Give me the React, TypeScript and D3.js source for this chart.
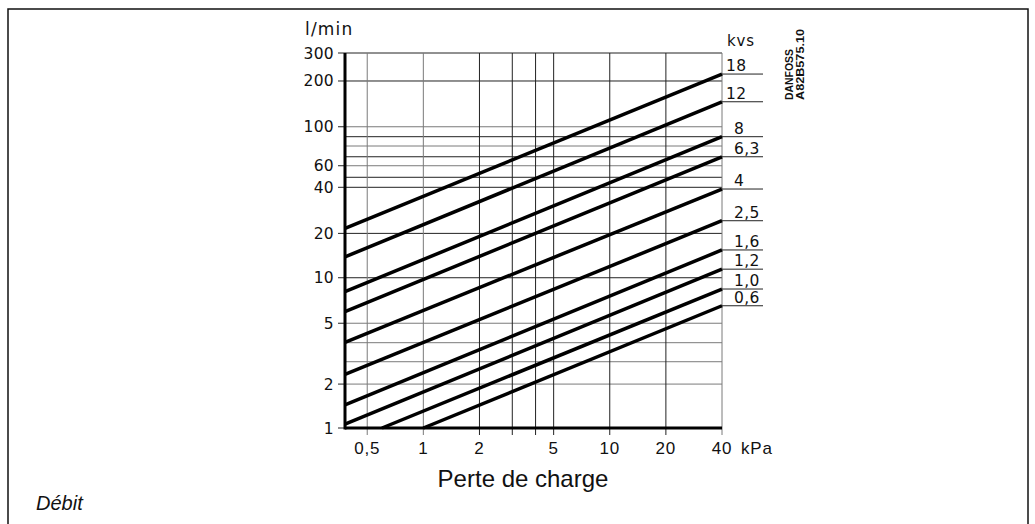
import React from "react";
import * as d3 from "d3";

// ---- data ----
const kvsLabels = ["18", "12", "8", "6,3", "4", "2,5", "1,6", "1,2", "1,0", "0,6"];
const startKPa = [0.38, 0.38, 0.38, 0.38, 0.38, 0.38, 0.38, 0.38, 0.6, 1.0];
const startFlow = [20.8, 13.5, 7.95, 5.87, 3.68, 2.26, 1.42, 1.06, 1, 1];
const endKPa = [40, 40, 40, 40, 40, 40, 40, 40, 40, 40];
const endFlow = [217.8, 142.9, 84, 61.9, 37.9, 23.4, 15.0, 11.2, 8.28, 6.42];

const yTickValues = [300, 196, 97.7, 54, 38.9, 19.3, 9.83, 4.92, 1.95, 1];
const yTickLabels = ["300", "200", "100", "60", "40", "20", "10", "5", "2", "1"];
const yGridValues = [1.95, 2.74, 3.66, 4.92, 9.83, 19.3, 38.9, 45.3, 54, 61.9, 72.9, 84, 97.7, 196, 300];
const yGridGray = [1.95, 2.74, 3.66, 4.92, 54, 72.9, 97.7];

const xTickValues = [0.5, 1, 2, 5, 10, 20, 40];
const xTickLabels = ["0,5", "1", "2", "5", "10", "20", "40"];
const xGridValues = [0.5, 1, 2, 3, 4, 5, 10, 20, 40];
const xGridGray = [0.5, 1, 40];

export default function App() {
  const x = d3.scaleLog().domain([0.38, 40]).range([345, 722]);
  const y = d3.scaleLog().domain([1, 300]).range([428, 53]);
  const line = d3
    .line<[number, number]>()
    .x((d) => x(d[0]))
    .y((d) => y(d[1]));

  const left = x.range()[0];
  const right = x.range()[1];
  const top = y.range()[1];
  const bottom = y.range()[0];

  return (
    <svg
      width={1035}
      height={524}
      style={{ position: "absolute", left: 0, top: 0, background: "#fff" }}
    >
      <rect x={8} y={9} width={1020} height={530} fill="#fff" stroke="#111" strokeWidth={1.5} />

      {/* horizontal grid */}
      {yGridValues.map((v, i) => (
        <line
          key={"hg" + i}
          x1={left}
          x2={right}
          y1={y(v)}
          y2={y(v)}
          stroke={yGridGray.includes(v) ? "#7a7a7a" : "#222"}
          strokeWidth={1}
        />
      ))}
      {/* vertical grid */}
      {xGridValues.map((v, i) => (
        <line
          key={"vg" + i}
          x1={x(v)}
          x2={x(v)}
          y1={top}
          y2={bottom + 7}
          stroke={xGridGray.includes(v) ? "#7a7a7a" : "#222"}
          strokeWidth={1}
        />
      ))}
      {/* y ticks */}
      {yTickValues.map((v, i) => (
        <g key={"yt" + i}>
          <line x1={left - 7} x2={left} y1={y(v)} y2={y(v)} stroke="#222" strokeWidth={1} />
          <text
            x={334}
            y={y(v) + 5.5}
            textAnchor="end"
            fontFamily="DejaVu Sans"
            fontSize={15.5}
            letterSpacing={0.3}
            fill="#111"
          >
            {yTickLabels[i]}
          </text>
        </g>
      ))}
      {/* x tick labels */}
      {xTickValues.map((v, i) => (
        <text
          key={"xt" + i}
          x={x(v)}
          y={454}
          textAnchor="middle"
          fontFamily="Liberation Sans, Arial"
          fontSize={17}
          letterSpacing={0.8}
          fill="#111"
        >
          {xTickLabels[i]}
        </text>
      ))}
      <text x={741} y={454} fontFamily="Liberation Sans, Arial" fontSize={17} letterSpacing={0.8} fill="#111">
        kPa
      </text>

      {/* axes */}
      <line x1={left} x2={left} y1={top} y2={bottom + 1.5} stroke="#000" strokeWidth={3} />
      <line x1={left} x2={right} y1={bottom} y2={bottom} stroke="#000" strokeWidth={3} />

      {/* kvs lines */}
      {kvsLabels.map((lab, i) => (
        <g key={"kv" + i}>
          <path
            d={line([
              [startKPa[i], startFlow[i]],
              [endKPa[i], endFlow[i]],
            ]) || ""}
            stroke="#000"
            strokeWidth={3.5}
            fill="none"
          />
          <line
            x1={right}
            x2={763}
            y1={y(endFlow[i])}
            y2={y(endFlow[i])}
            stroke="#222"
            strokeWidth={1}
          />
          <text
            x={lab.length === 2 ? 726 : 734}
            y={y(endFlow[i]) - 3}
            fontFamily="DejaVu Sans"
            fontSize={15.5}
            letterSpacing={0.3}
            fill="#111"
          >
            {lab}
          </text>
        </g>
      ))}

      {/* titles */}
      <text x={305} y={35} fontFamily="DejaVu Sans" fontSize={17} letterSpacing={1.2} fill="#111">
        l/min
      </text>
      <text x={727} y={46} fontFamily="DejaVu Sans" fontSize={15} letterSpacing={0.8} fill="#111">
        kvs
      </text>
      <text
        transform="translate(793,100) rotate(-90)"
        fontFamily="Liberation Sans, Arial"
        fontWeight="bold"
        fontSize={11}
        textLength={51}
        lengthAdjust="spacingAndGlyphs"
        fill="#111"
      >
        DANFOSS
      </text>
      <text
        transform="translate(804,100) rotate(-90)"
        fontFamily="Liberation Sans, Arial"
        fontWeight="bold"
        fontSize={11}
        textLength={71}
        lengthAdjust="spacingAndGlyphs"
        fill="#111"
      >
        A82B575.10
      </text>
      <text
        x={523}
        y={487}
        textAnchor="middle"
        fontFamily="Liberation Sans, Arial"
        fontSize={24}
        fill="#111"
      >
        Perte de charge
      </text>
      <text x={36} y={510} fontFamily="Liberation Sans, Arial" fontStyle="italic" fontSize={20} fill="#111">
        Débit
      </text>
    </svg>
  );
}
